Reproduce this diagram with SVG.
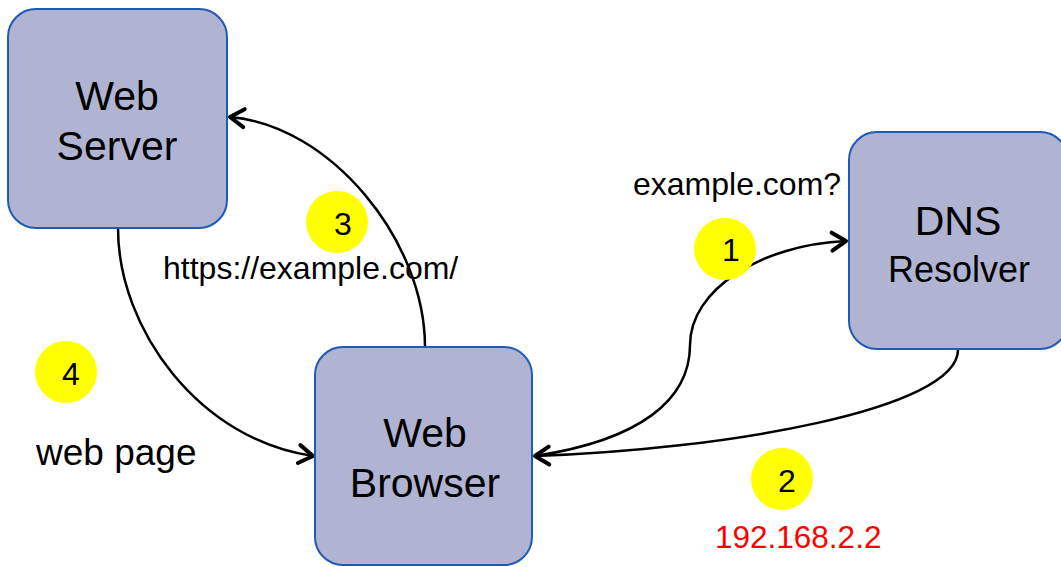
<svg xmlns="http://www.w3.org/2000/svg" width="1061" height="567" viewBox="0 0 1061 567">
  <style>
    .box { fill: #b0b4d2; stroke: #1f5bb5; stroke-width: 2; }
    .name { font-family: "Liberation Sans", Arial, sans-serif; font-size: 41px; fill: #000; text-anchor: middle; }
    .small { font-size: 36px; }
    .label { font-family: "Liberation Sans", Arial, sans-serif; font-size: 32px; fill: #000; }
    .badge { fill: #ffff00; }
    .num { font-family: "Liberation Sans", Arial, sans-serif; font-size: 32px; fill: #000; text-anchor: middle; }
    .conn { fill: none; stroke: #000; stroke-width: 2.5; }
  </style>
  <defs>
    <marker id="arrow" markerUnits="userSpaceOnUse" markerWidth="30" markerHeight="30" viewBox="-20 -15 25 30" refX="0" refY="0" orient="auto">
      <path d="M -14 -9 L 0 0 L -14 9" fill="none" stroke="#000" stroke-width="4" stroke-linecap="round" stroke-linejoin="round"/>
    </marker>
  </defs>

  <rect width="1061" height="567" fill="#fff"/>

  <!-- connectors -->
  <g id="connectors">
    <path class="conn" d="M 535 456 C 640 440, 690 400, 690 345 C 690 290, 760 245, 846 241" marker-end="url(#arrow)"/>
    <path class="conn" d="M 958 349 C 960 410, 720 450, 535 456" marker-end="url(#arrow)"/>
    <path class="conn" d="M 425 347 C 425 240, 330 125, 230 117" marker-end="url(#arrow)"/>
    <path class="conn" d="M 118 228 C 118 330, 200 440, 313 456" marker-end="url(#arrow)"/>
  </g>

  <!-- nodes -->
  <g id="web-server">
    <rect class="box" x="8" y="9" width="219" height="219" rx="28"/>
    <text class="name" x="117" y="110">Web</text>
    <text class="name" x="117" y="160">Server</text>
  </g>
  <g id="dns-resolver">
    <rect class="box" x="849" y="132" width="219" height="217" rx="28"/>
    <text class="name" x="958" y="235">DNS</text>
    <text class="name small" x="959" y="282">Resolver</text>
  </g>
  <g id="web-browser">
    <rect class="box" x="315" y="347" width="217" height="218" rx="28"/>
    <text class="name" x="425" y="447">Web</text>
    <text class="name" x="425" y="497">Browser</text>
  </g>

  <!-- step badges -->
  <g id="step-1">
    <circle class="badge" cx="725" cy="249" r="31"/>
    <text class="num" x="731" y="261">1</text>
  </g>
  <g id="step-2">
    <circle class="badge" cx="782" cy="479" r="31"/>
    <text class="num" x="787" y="492">2</text>
  </g>
  <g id="step-3">
    <circle class="badge" cx="337" cy="222" r="31"/>
    <text class="num" x="343" y="235">3</text>
  </g>
  <g id="step-4">
    <circle class="badge" cx="66" cy="372" r="31"/>
    <text class="num" x="71" y="385">4</text>
  </g>

  <!-- labels -->
  <g id="labels">
    <text class="label" x="633" y="195">example.com?</text>
    <text class="label" x="163" y="279">https://example.com/</text>
    <text class="label" x="36" y="465" style="font-size:37px">web page</text>
    <text class="label" x="715" y="548" style="fill:#ff0000;font-size:31.5px">192.168.2.2</text>
  </g>
</svg>
